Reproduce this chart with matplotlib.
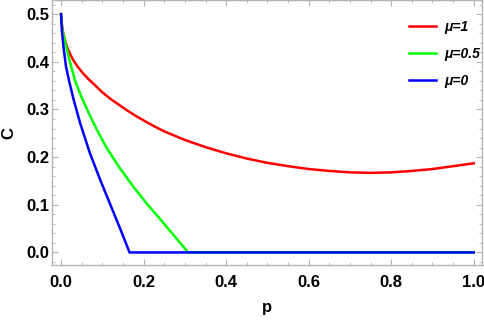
import matplotlib.pyplot as plt
from matplotlib.ticker import MultipleLocator

# values
p_red = [0, 0.002, 0.005, 0.01, 0.015, 0.022, 0.03, 0.04, 0.052, 0.066, 0.082, 0.1, 0.12, 0.14,
         0.16, 0.18, 0.2, 0.225, 0.25, 0.3, 0.35, 0.4, 0.45, 0.5, 0.55, 0.6, 0.65, 0.7, 0.75,
         0.8, 0.85, 0.9, 0.95, 1.0]
c_red = [0.5, 0.478, 0.461, 0.443, 0.43, 0.416, 0.403, 0.39, 0.377, 0.364, 0.351, 0.336, 0.322, 0.31,
         0.298, 0.287, 0.277, 0.265, 0.254, 0.236, 0.221, 0.208, 0.197, 0.188, 0.181, 0.175, 0.171,
         0.168, 0.167, 0.168, 0.171, 0.175, 0.181, 0.187]

p_green = [0, 0.003, 0.01, 0.02, 0.034, 0.05, 0.07, 0.09, 0.11, 0.14, 0.175, 0.21, 0.24, 0.275, 0.308, 1.0]
c_green = [0.5, 0.468, 0.44, 0.405, 0.36, 0.325, 0.287, 0.252, 0.22, 0.18, 0.138, 0.1, 0.07, 0.034, 0.0, 0.0]

p_blue = [0, 0.002, 0.006, 0.012, 0.02, 0.03, 0.046, 0.07, 0.095, 0.12, 0.145, 0.166, 1.0]
c_blue = [0.5, 0.465, 0.43, 0.39, 0.358, 0.322, 0.272, 0.208, 0.152, 0.099, 0.046, 0.0, 0.0]

labels = ['\u03bc=1', '\u03bc=0.5', '\u03bc=0']

plt.rcParams['font.family'] = ['Liberation Sans', 'DejaVu Sans']

fig = plt.figure(figsize=(4.84, 3.21), dpi=100)
ax = fig.add_axes([0.1074, 0.1735, 0.8885, 0.8255])

ax.plot(p_red, c_red, color='#ff0000', lw=1.8, label=labels[0])
ax.plot(p_green, c_green, color='#00ff00', lw=1.8, label=labels[1])
ax.plot(p_blue, c_blue, color='#0000ff', lw=1.8, label=labels[2])

ax.set_xlim(-0.022, 1.02)
ax.set_ylim(-0.027, 0.529)

ax.xaxis.set_major_locator(MultipleLocator(0.2))
ax.xaxis.set_minor_locator(MultipleLocator(0.05))
ax.yaxis.set_major_locator(MultipleLocator(0.1))
ax.yaxis.set_minor_locator(MultipleLocator(0.02))
ax.xaxis.set_major_formatter(plt.FormatStrFormatter('%.1f'))
ax.yaxis.set_major_formatter(plt.FormatStrFormatter('%.1f'))

frame_col = '#b4b4b4'
for s in ax.spines.values():
    s.set_color(frame_col)
    s.set_linewidth(1.0)
ax.tick_params(which='both', direction='in', top=True, right=True, color=frame_col, labelsize=12)
ax.tick_params(axis='x', which='major', pad=7)
ax.tick_params(axis='y', which='major', pad=2)
ax.tick_params(which='major', length=4.5, width=0.8)
ax.tick_params(which='minor', length=2.5, width=0.6)
for t in ax.get_xticklabels() + ax.get_yticklabels():
    t.set_fontweight('bold')

ax.set_xlabel('p', fontsize=12, fontweight='bold', labelpad=7)
ax.set_ylabel('C', fontsize=12, fontweight='bold', labelpad=7)

leg = ax.legend(loc='upper right', frameon=False, handlelength=1.95, handletextpad=0.55,
                labelspacing=0.95, borderaxespad=0, bbox_to_anchor=(1.008, 0.948),
                prop={'weight': 'bold', 'style': 'italic', 'size': 10})

fig.savefig('out.png', dpi=100)
